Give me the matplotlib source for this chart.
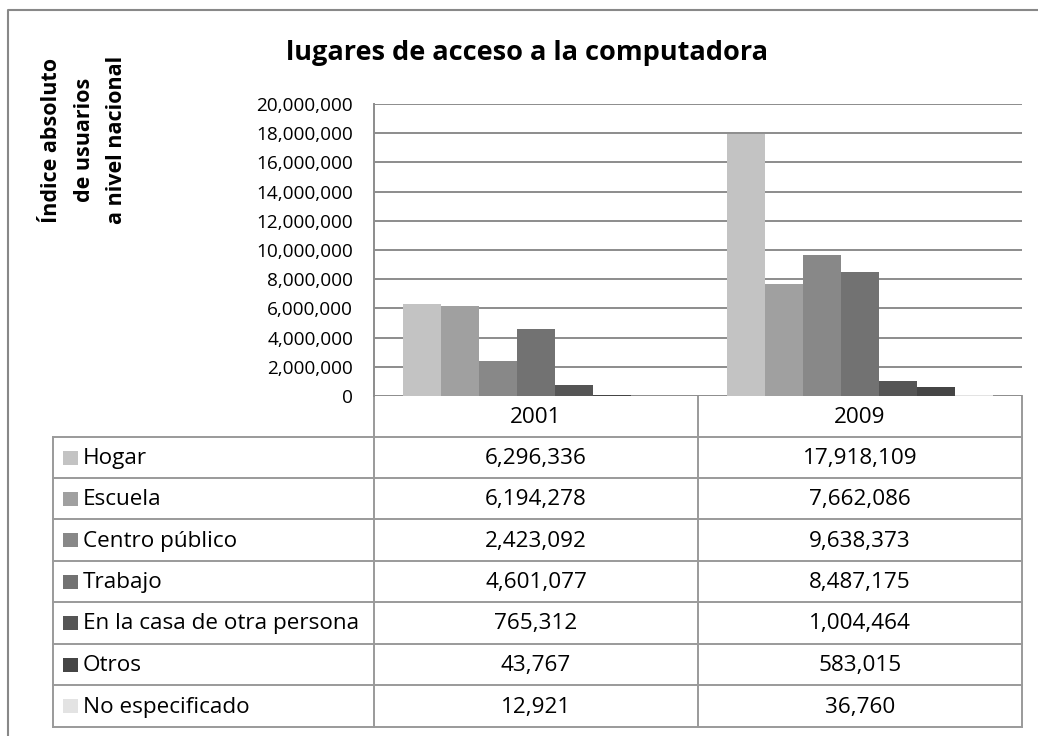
import matplotlib

matplotlib.use("Agg")

import matplotlib.pyplot as plt  # noqa: E402
import numpy as np  # noqa: E402
from matplotlib.ticker import FuncFormatter  # noqa: E402

plt.rcParams["font.family"] = ["Open Sans", "DejaVu Sans"]

TITLE = "lugares de acceso a la computadora"
YLABEL_LINES = ["Índice absoluto", "de usuarios", "a nivel nacional"]
YEARS = ["2001", "2009"]
SERIES = ["Hogar", "Escuela", "Centro público", "Trabajo",
          "En la casa de otra persona", "Otros", "No especificado"]
VAL_2001 = [6296336, 6194278, 2423092, 4601077, 765312, 43767, 12921]
VAL_2009 = [17918109, 7662086, 9638373, 8487175, 1004464, 583015, 36760]
COLORS = ["#c3c3c3", "#a0a0a0", "#888888", "#727272", "#555555", "#454545", "#e3e3e3"]
YTICKS = list(range(0, 20_000_001, 2_000_000))

W, H = 1038, 736
GRID = "#8c8c8c"
LINE = "#9a9a9a"


def fx(px):
    return px / W


def fy(py):
    return 1 - py / H


fig = plt.figure(figsize=(W / 100, H / 100), dpi=100)

# ---- bar chart area (pixel box 374..1022 x 104..396)
ax = fig.add_axes([fx(374), fy(396), fx(1022) - fx(374), fy(104) - fy(396)])
values = np.array([VAL_2001, VAL_2009])
n = len(SERIES)
bw = 0.82 / n
x = np.arange(len(YEARS))
for i, name in enumerate(SERIES):
    ax.bar(x - 0.41 + bw * (i + 0.5), values[:, i], width=bw, color=COLORS[i],
           zorder=3, linewidth=0)
ax.set_xlim(-0.5, len(YEARS) - 0.5)
ax.set_ylim(0, 20_000_000)
ax.set_yticks(YTICKS)
ax.yaxis.set_major_formatter(FuncFormatter(lambda v, _: f"{int(v):,}"))
ax.tick_params(axis="y", labelsize=13.7, length=0, pad=15)
ax.set_xticks([])
ax.grid(axis="y", color=GRID, lw=1.4, zorder=0)
for s in ("top", "right", "bottom"):
    ax.spines[s].set_visible(False)
ax.spines["left"].set_color(GRID)
ax.spines["left"].set_linewidth(1.4)

# ---- overlay in pixel coordinates for title, label, data table and border
ov = fig.add_axes([0, 0, 1, 1], zorder=-1)
ov.set_xlim(0, W)
ov.set_ylim(H, 0)
ov.axis("off")

ov.plot([8, 8, W + 5], [H + 5, 10, 10], color="#888888", lw=1.5)
ov.text(527, 53, TITLE, ha="center", va="center", fontsize=19.5, fontweight="bold")
for lx, line in zip([52, 85, 117], YLABEL_LINES):
    ov.text(lx, 140, line, ha="center", va="center", rotation=90, fontsize=15.5,
            fontweight="bold")

col_x = [53, 374, 698, 1022]
row_y = [396, 437, 478, 519, 561, 602, 644, 685, 727]
FS = 16.2
# header row
for cx in col_x[1:]:
    ov.plot([cx, cx], [row_y[0], row_y[1]], color=LINE, lw=1.4)
for j, yr in enumerate(YEARS):
    ov.text((col_x[j + 1] + col_x[j + 2]) / 2, (row_y[0] + row_y[1]) / 2 + 1, yr,
            ha="center", va="center", fontsize=FS)
# body rows
for yy in row_y[1:]:
    ov.plot([col_x[0], col_x[-1]], [yy, yy], color=LINE, lw=1.4)
for cx in col_x:
    ov.plot([cx, cx], [row_y[1], row_y[-1]], color=LINE, lw=1.4)
for i, name in enumerate(SERIES):
    cy = (row_y[i + 1] + row_y[i + 2]) / 2
    ov.add_patch(plt.Rectangle((63, cy - 7), 15, 14, color=COLORS[i], lw=0))
    ov.text(83, cy + 1, name, ha="left", va="center", fontsize=FS)
    for j, vals in enumerate((VAL_2001, VAL_2009)):
        ov.text((col_x[j + 1] + col_x[j + 2]) / 2, cy + 1, f"{vals[i]:,}",
                ha="center", va="center", fontsize=FS)

fig.savefig("out.png", dpi=100)
